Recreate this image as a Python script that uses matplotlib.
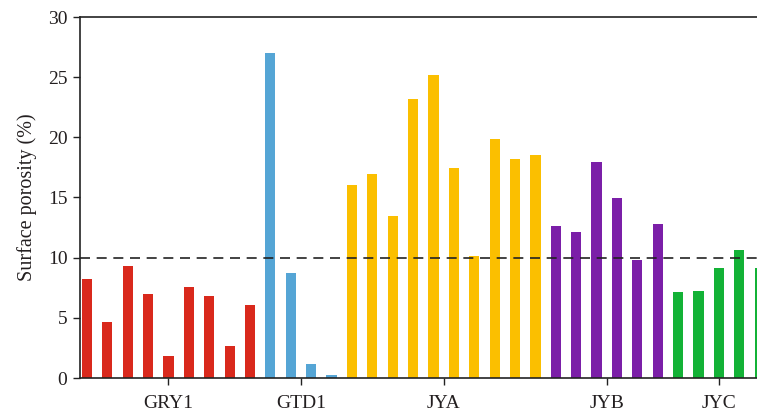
import matplotlib.pyplot as plt
import numpy as np

plt.rcParams['font.family'] = ['Liberation Serif', 'DejaVu Serif']

groups = ['GRY1', 'GTD1', 'JYA', 'JYB', 'JYC']
gry1 = [8.25, 4.65, 9.3, 6.95, 1.85, 7.6, 6.85, 2.65, 6.05]
gtd1 = [27.0, 8.7, 1.2, 0.25]
jya = [16.05, 16.95, 13.5, 23.2, 25.2, 17.45, 10.15, 19.85, 18.2, 18.55]
jyb = [12.65, 12.15, 17.95, 14.95, 9.8, 12.8]
jyc = [7.15, 7.25, 9.15, 10.65, 9.15]
colors = ['#d9291c', '#55a5d5', '#fbbf00', '#7b1fa8', '#13b236']
threshold = 10

fig = plt.figure(figsize=(7.57, 4.15), dpi=100)
ax = fig.add_axes([80 / 757, 37 / 415, 677 / 757, 361 / 415])

start = 0
tick_pos = []
for vals, c in zip([gry1, gtd1, jya, jyb, jyc], colors):
    x = np.arange(start, start + len(vals))
    ax.bar(x, vals, width=0.5, color=c, zorder=2)
    tick_pos.append(x.mean())
    start += len(vals)

ax.axhline(threshold, color='#222222', lw=1.2, ls=(0, (6, 4)), zorder=3)

ax.set_xlim(-0.34, 32.87)
ax.set_ylim(0, 30)
ax.set_yticks(range(0, 31, 5))
ax.set_xticks(tick_pos)
ax.set_xticklabels(groups)
ax.tick_params(axis='both', direction='out', length=5, width=1, colors='#222222',
               labelsize=14, labelcolor='#231f20')
ax.tick_params(axis='x', pad=7)
ax.tick_params(axis='y', pad=4)
ax.set_ylabel('Surface porosity (%)', fontsize=14.5, color='#231f20', labelpad=8)

for side in ['left', 'bottom', 'top']:
    ax.spines[side].set_linewidth(1.2)
    ax.spines[side].set_color('#222222')
ax.spines['right'].set_visible(False)

fig.savefig('out.png', dpi=100)
